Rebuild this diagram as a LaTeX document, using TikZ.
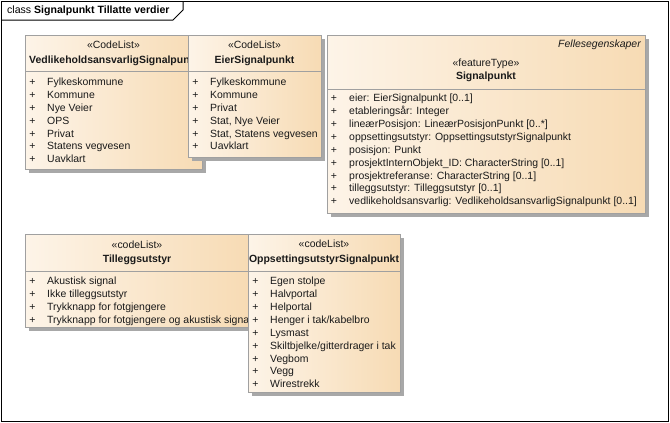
\documentclass[tikz,border=0pt]{standalone}
\usepackage{fontspec}
\setmainfont{Liberation Sans}
\usetikzlibrary{shadows}
\definecolor{boxL}{HTML}{FDF4E8}
\definecolor{boxR}{HTML}{F7DBB4}
\definecolor{bord}{HTML}{A0A0A0}
\definecolor{shad}{HTML}{A8A8A8}
\definecolor{txt}{HTML}{1A1A1A}
\begin{document}
\begin{tikzpicture}[x=1bp,y=-1bp,
  cls/.style={draw=bord, line width=1bp, left color=boxL, right color=boxR,
    anchor=north west, inner sep=0pt, outer sep=0pt,
    drop shadow={shadow xshift=4bp, shadow yshift=-4bp, fill=shad, opacity=1}},
  sep/.style={draw=bord, line width=1bp},
  lbl/.style={inner sep=0pt, text=txt, font=\fontsize{10.5}{12}\selectfont},
  item/.style={lbl, anchor=mid west},
  pl/.style={lbl, anchor=mid},
  hd/.style={lbl, anchor=mid},
  hdb/.style={lbl, anchor=mid, font=\fontsize{10.5}{12}\selectfont\bfseries}]
\useasboundingbox (0,0) rectangle (670,422);
% frame
\draw[line width=1bp, black] (1,1) rectangle (668.5,421);
\draw[line width=1bp, black] (1,20) -- (173,20) -- (183,10) -- (183,1);
\node[lbl, anchor=mid west, font=\fontsize{10.6}{12}\selectfont, text=black] (title) at (7,11) {class \textbf{Signalpunkt Tillatte verdier}};

% Box 1
\node[cls, minimum width=177bp, minimum height=134bp] (b1) at (25,35) {};
\draw[sep] (25,71) -- (202,71);
\node[hd] (b1s) at (113.5,46) {«CodeList»};
\begin{scope}
\clip (25,35) rectangle (201,70);
\node[hdb, anchor=mid west] (b1n) at (29,61) {VedlikeholdsansvarligSignalpunkt};
\end{scope}
\foreach \t [count=\i from 0] in {Fylkeskommune, Kommune, Nye Veier, OPS, Privat, Statens vegvesen, Uavklart}{
  \node[pl] (b1p\i) at (32.5,83+12.85*\i) {+};
  \node[item] (b1i\i) at (47,83+12.85*\i) {\t};
}

% Box 2
\node[cls, minimum width=133bp, minimum height=122bp] (b2) at (188,35) {};
\draw[sep] (188,71) -- (321,71);
\node[hd] (b2s) at (254.5,46) {«CodeList»};
\node[hdb] (b2n) at (254.5,61) {EierSignalpunkt};
\foreach \t [count=\i from 0] in {Fylkeskommune, Kommune, Privat, {Stat, Nye Veier}, {Stat, Statens vegvesen}, Uavklart}{
  \node[pl] (b2p\i) at (195.5,83+12.85*\i) {+};
  \node[item] (b2i\i) at (210,83+12.85*\i) {\t};
}

% Box 3
\node[cls, minimum width=318bp, minimum height=178bp] (b3) at (327,35) {};
\draw[sep] (327,89) -- (645,89);
\node[lbl, anchor=mid east, font=\fontsize{10.5}{12}\selectfont\itshape] (b3f) at (641,45) {Fellesegenskaper};
\node[hd] (b3s) at (486,64) {«featureType»};
\node[hdb] (b3n) at (486,77) {Signalpunkt};
\foreach \t [count=\i from 0] in {eier: EierSignalpunkt [0..1], etableringsår: Integer, lineærPosisjon: LineærPosisjonPunkt [0..*], oppsettingsutstyr: OppsettingsutstyrSignalpunkt, posisjon: Punkt, prosjektInternObjekt\_ID: CharacterString [0..1], prosjektreferanse: CharacterString [0..1], tilleggsutstyr: Tilleggsutstyr [0..1], vedlikeholdsansvarlig: VedlikeholdsansvarligSignalpunkt [0..1]}{
  \node[pl] (b3p\i) at (334,99+12.9*\i) {+};
  \node[item] (b3i\i) at (349,99+12.9*\i) {\t};
}

% Box 4
\node[cls, minimum width=224bp, minimum height=93bp] (b4) at (25,234) {};
\draw[sep] (25,271) -- (249,271);
\node[hd] (b4s) at (137,246) {«codeList»};
\node[hdb] (b4n) at (137,260) {Tilleggsutstyr};
\foreach \t [count=\i from 0] in {Akustisk signal, Ikke tilleggsutstyr, Trykknapp for fotgjengere, Trykknapp for fotgjengere og akustisk signal}{
  \node[pl] (b4p\i) at (32.5,282+13*\i) {+};
  \node[item] (b4i\i) at (47,282+13*\i) {\t};
}

% Box 5
\node[cls, minimum width=152bp, minimum height=158bp] (b5) at (248,234) {};
\draw[sep] (248,271) -- (400,271);
\node[hd] (b5s) at (324,245) {«codeList»};
\node[hdb] (b5n) at (324,260) {OppsettingsutstyrSignalpunkt};
\begin{scope}
\clip (248,272) rectangle (399,391);
\foreach \t [count=\i from 0] in {Egen stolpe, Halvportal, Helportal, Henger i tak/kabelbro, Lysmast, Skiltbjelke/gitterdrager i tak, Vegbom, Vegg, Wirestrekk}{
  \node[pl] (b5p\i) at (255.5,282+12.9*\i) {+};
  \node[item] (b5i\i) at (270,282+12.9*\i) {\t};
}
\end{scope}
\end{tikzpicture}
\end{document}
